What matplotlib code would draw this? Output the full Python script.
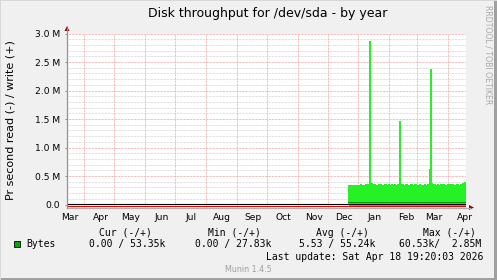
import datetime as dt
import numpy as np
import matplotlib
matplotlib.use("Agg")
import matplotlib.pyplot as plt
import matplotlib.dates as mdates
from matplotlib.patches import Rectangle, Polygon
from matplotlib.lines import Line2D

# ---------------- data ----------------
title = "Disk throughput for /dev/sda - by year"
ylabel = "Pr second read (-) / write (+)"
start_time = dt.datetime(2025, 3, 14, 19, 20)
end_time = dt.datetime(2026, 4, 18, 19, 20)
first_data_day = dt.date(2025, 12, 22)

# daily write throughput (kB/s) from Dec 22 2025 to Apr 18 2026
write_k = [
    # Dec 22-31
    350, 345, 340, 345, 342, 348, 340, 338, 352, 345,
    # Jan
    350, 342, 355, 348, 340, 345, 352, 360, 348, 355, 350, 2870, 365, 372, 360, 350,
    355, 345, 260, 340, 355, 362, 358, 350, 345, 352, 365, 358, 350, 345, 355,
    # Feb
    350, 345, 360, 352, 348, 355, 350, 345, 362, 355, 1470, 350, 360, 358, 345, 350,
    355, 362, 350, 345, 352, 360, 355, 350, 340, 355, 360, 350,
    # Mar
    345, 352, 360, 220, 340, 350, 345, 355, 350, 348, 360, 355, 620, 2380, 370, 360,
    350, 355, 345, 350, 360, 352, 345, 355, 350, 360, 362, 350, 345, 352, 355,
    # Apr 1-18
    350, 355, 345, 360, 365, 352, 350, 348, 355, 360, 350, 345, 360, 365, 370, 380,
    395, 400,
]
baseline_k = 45  # darker line along the bottom of the filled area

y_ticks = [0, 0.5e6, 1.0e6, 1.5e6, 2.0e6, 2.5e6, 3.0e6]
y_tick_labels = ["0.0", "0.5 M", "1.0 M", "1.5 M", "2.0 M", "2.5 M", "3.0 M"]
month_names = ["Mar", "Apr", "May", "Jun", "Jul", "Aug", "Sep", "Oct", "Nov",
               "Dec", "Jan", "Feb", "Mar", "Apr"]
month_starts = [dt.datetime(2025, 3, 1)] + \
    [dt.datetime(2025, m, 1) for m in range(4, 13)] + \
    [dt.datetime(2026, m, 1) for m in range(1, 5)]

legend_headers = ["Cur (-/+)", "Min (-/+)", "Avg (-/+)", "Max (-/+)"]
legend_values = ["0.00 / 53.35k", "0.00 / 27.83k", "5.53 / 55.24k", "60.53k/  2.85M"]
legend_name = "Bytes"
last_update = "Last update: Sat Apr 18 19:20:03 2026"
footer = "Munin 1.4.5"
side_text = "RRDTOOL / TOBI OETIKER"

# ---------------- figure ----------------
W, H = 497, 280
fig = plt.figure(figsize=(W / 100, H / 100), dpi=100, facecolor="#f0f0f0")

def fx(x):
    return x / W

def fy(y):
    return 1 - y / H

L, R, T, B = 67, 466, 33.5, 207.5
ax = fig.add_axes([fx(L), fy(B), (R - L) / W, (B - T) / H])
ax.set_facecolor("white")
px_per_unit = (204.6 - 33.5) / 3.0e6
ybot = -(B - 204.6) / px_per_unit
ax.set_ylim(ybot, 3.0e6)
ax.set_xlim(mdates.date2num(start_time), mdates.date2num(end_time))

dots = (0, (0.72, 0.72))
# minor horizontal grid
for v in np.arange(1, 31) * 0.1e6:
    if abs(v / 0.5e6 - round(v / 0.5e6)) > 1e-6:
        ax.axhline(v, color="#d4d4d4", lw=0.72, linestyle=dots, zorder=1)
# major horizontal grid
for v in y_ticks[1:]:
    ax.axhline(v, color="#f4a4a4", lw=0.72, linestyle=dots, zorder=1.1)
# vertical month grid
for d in month_starts[1:]:
    ax.axvline(mdates.date2num(d), color="#f4a4a4", lw=0.72, linestyle=dots, zorder=1.1)

# data
green = "#26f026"
days = [dt.datetime.combine(first_data_day, dt.time()) + dt.timedelta(days=i)
        for i in range(len(write_k))]
xs = mdates.date2num(days + [days[-1] + dt.timedelta(days=1)])
vals = np.array(write_k + [write_k[-1]], dtype=float) * 1000
ax.fill_between(xs, 0, vals, step="post", color=green, lw=0, zorder=2,
                antialiased=False)
# one-pixel columns so that single-day spikes stay visible
ax.vlines(xs[:-1] + 0.5, 0, vals[:-1], colors=green, lw=0.6, zorder=2.1,
          antialiased=False)
ax.plot([xs[0], xs[-1]], [baseline_k * 1000] * 2, color="#009900", lw=0.7, zorder=3,
        solid_capstyle="butt", antialiased=False)

ax.axhline(0.005e6, color="black", lw=0.8, zorder=4)
ax.axhline(-0.019e6, color="#ee0000", lw=0.8, zorder=4)

# axes styling
for s in ["top", "right"]:
    ax.spines[s].set_visible(False)
ax.spines["left"].set_color("#909090")
ax.spines["bottom"].set_color("#b0b0b0")
ax.spines["left"].set_linewidth(0.8)
ax.spines["bottom"].set_linewidth(0.8)

ax.set_yticks(y_ticks)
ax.set_yticklabels(y_tick_labels)
ax.tick_params(axis="y", length=1.5, width=0.7, color="#909090", pad=3.5,
               labelsize=6.6, labelcolor="black")
label_pos = [mdates.date2num(d + dt.timedelta(days=16.5)) for d in month_starts]
ax.set_xticks(label_pos)
ax.set_xticklabels(month_names)
ax.tick_params(axis="x", length=0, pad=4.2, labelsize=6.6, labelcolor="black")

# arrows
fig.add_artist(Line2D([fx(L), fx(L)], [fy(B), fy(28)], color="#909090", lw=0.8))
fig.add_artist(Polygon([[fx(L - 2.5), fy(31)], [fx(L + 2.5), fy(31)], [fx(L), fy(26)]],
                       closed=True, color="#8b1010", lw=0))
fig.add_artist(Line2D([fx(R), fx(470)], [fy(B), fy(B)], color="#b0b0b0", lw=0.8))
fig.add_artist(Polygon([[fx(469), fy(B - 2.5)], [fx(469), fy(B + 2.5)], [fx(474), fy(B)]],
                       closed=True, color="#8b1010", lw=0))

# texts
fig.text(fx(267.7), fy(13), title, ha="center", va="center", fontsize=9, color="black")
fig.text(fx(10.5), fy(120), ylabel, ha="center", va="center", rotation=90,
         fontsize=8, color="black")
fig.text(fx(488), fy(5), side_text, ha="center", va="top", rotation=270,
         fontsize=5.6, color="#a8a8a8")

mono = "DejaVu Sans Mono"
hdr_x = [99, 207.7, 315.7, 423.3]
val_x = [89.3, 194.7, 299, 398.7]
for t, x in zip(legend_headers, hdr_x):
    fig.text(fx(x), fy(232.7), t, ha="left", va="center", fontsize=7, family=mono)
for t, x in zip(legend_values, val_x):
    fig.text(fx(x), fy(244.3), t, ha="left", va="center", fontsize=7, family=mono)
fig.text(fx(26.7), fy(244.3), legend_name, ha="left", va="center", fontsize=7, family=mono)
fig.add_artist(Rectangle((fx(13.5), fy(247.3)), 6.5 / W, 6.5 / H,
                         facecolor="#00aa00", edgecolor="black", lw=0.6))
fig.text(fx(483.3), fy(256.7), last_update, ha="right", va="center", fontsize=7, family=mono)
fig.text(fx(248.5), fy(269), footer, ha="center", va="center", fontsize=5.8, color="#a0a0a0")

# frame shading
fig.add_artist(Rectangle((0, 0), 1, 2 / H, facecolor="#a0a0a0", lw=0))
fig.add_artist(Rectangle((1 - 3 / W, 0), 3 / W, 1, facecolor="#a0a0a0", lw=0))
fig.add_artist(Rectangle((0, 1 - 1 / H), 1, 1 / H, facecolor="#d8d8d8", lw=0))
fig.add_artist(Rectangle((0, 0), 1 / W, 1, facecolor="#d8d8d8", lw=0))

fig.savefig("out.png", dpi=100, facecolor=fig.get_facecolor())
